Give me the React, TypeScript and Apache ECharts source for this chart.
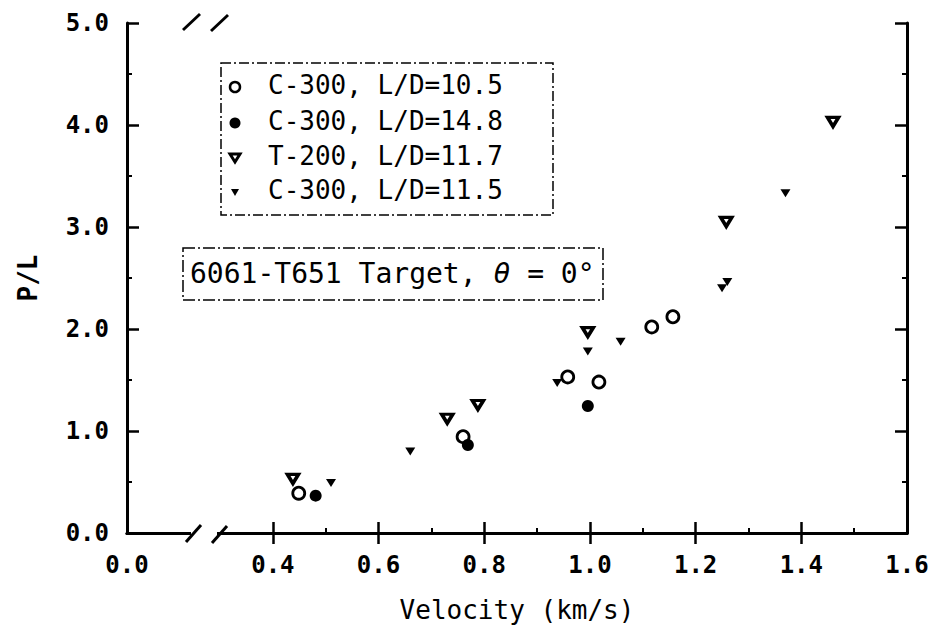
import React, { useEffect, useRef } from 'react';
import * as echarts from 'echarts';

// Broken velocity axis: its left end stands for 0.0
const X_START = 0.124;
const X_MAX = 1.6;
const X_LABELS = [X_START, 0.4, 0.6, 0.8, 1.0, 1.2, 1.4, 1.6];
const X_MAJOR = [0.4, 0.6, 0.8, 1.0, 1.2, 1.4];
const X_MINOR = [0.5, 0.7, 0.9, 1.1, 1.3, 1.5];
const Y_MIN = 0;
const Y_MAX = 5;
const Y_STEP = 1;

const NAMES = ['C-300, L/D=10.5', 'C-300, L/D=14.8', 'T-200, L/D=11.7', 'C-300, L/D=11.5'];

const C300_LD105 = [[0.449, 0.39], [0.76, 0.944], [0.958, 1.53], [1.017, 1.48], [1.117, 2.02], [1.157, 2.12]];
const C300_LD148 = [[0.481, 0.366], [0.769, 0.863], [0.996, 1.245]];
const T200_LD117 = [[0.438, 0.53], [0.73, 1.12], [0.788, 1.255], [0.996, 1.97], [1.258, 3.05], [1.46, 4.03]];
const C300_LD115 = [[0.51, 0.49], [0.66, 0.8], [0.938, 1.47], [0.996, 1.78], [1.058, 1.875], [1.26, 2.46], [1.25, 2.4], [1.37, 3.33]];

const ANNOTATION = '6061-T651 Target, ';
const X_NAME = 'Velocity (km/s)';
const Y_NAME = 'P/L';

const DOWN_TRI = 'path://M0,0L10,0L5,8.66Z';
const MONO = "'DejaVu Sans Mono', monospace";

export default function App() {
  const ref = useRef<HTMLDivElement>(null);
  useEffect(() => {
    if (!ref.current) return;
    const chart = echarts.init(ref.current, undefined, { renderer: 'svg' });
    const axisLine = { show: true, lineStyle: { color: '#000', width: 3 } };
    const labelFmt = (v: number) => (Math.abs(v - X_START) < 1e-6 ? '0.0' : v.toFixed(1));
    const legendRowsY = [87, 123, 158, 192];
    const legendSymbols: any[] = [
      { type: 'circle', shape: { cx: 235, cy: legendRowsY[0], r: 5 }, style: { fill: '#fff', stroke: '#000', lineWidth: 2.5 } },
      { type: 'circle', shape: { cx: 235, cy: legendRowsY[1], r: 5.5 }, style: { fill: '#000' } },
      { type: 'polygon', shape: { points: [[230, legendRowsY[2] - 4], [240, legendRowsY[2] - 4], [235, legendRowsY[2] + 4]] }, style: { fill: '#fff', stroke: '#000', lineWidth: 3 } },
      { type: 'polygon', shape: { points: [[231, legendRowsY[3] - 3], [239, legendRowsY[3] - 3], [235, legendRowsY[3] + 4]] }, style: { fill: '#000' } },
    ];
    const legendTexts = NAMES.map((n, i) => ({
      type: 'text', left: 268, top: legendRowsY[i] - 15,
      style: { text: n, fill: '#000', font: `26px ${MONO}`, textVerticalAlign: 'top' },
    }));
    const slash = (x1: number, y1: number, x2: number, y2: number) => ({
      type: 'line', z: 100, shape: { x1, y1, x2, y2 }, style: { stroke: '#000', lineWidth: 3 },
    });
    const option: any = {
      animation: false,
      backgroundColor: '#fff',
      grid: { left: 127, right: 25, top: 23, bottom: 103, containLabel: false, outerBoundsMode: 'none' },
      xAxis: [
        {
          type: 'value', position: 'bottom', min: X_START, max: X_MAX,
          axisLine, splitLine: { show: false },
          axisTick: { show: true, inside: true, length: 11, customValues: [...X_MAJOR, 1.6], lineStyle: { color: '#000', width: 2.5 } },
          axisLabel: { show: true, customValues: X_LABELS, formatter: labelFmt, margin: 20, color: '#000', fontFamily: MONO, fontWeight: 'bold', fontSize: 24 },
          name: X_NAME, nameLocation: 'middle', nameGap: 64,
          nameTextStyle: { color: '#000', fontFamily: MONO, fontSize: 26 },
        },
        {
          type: 'value', position: 'top', min: X_START, max: X_MAX,
          axisLine, splitLine: { show: false },
          axisTick: { show: true, inside: true, length: 11, customValues: X_MAJOR, lineStyle: { color: '#000', width: 2.5 } },
          axisLabel: { show: false },
        },
        {
          type: 'value', position: 'bottom', min: X_START, max: X_MAX,
          axisLine: { show: false }, splitLine: { show: false },
          axisTick: { show: true, inside: true, length: 5, customValues: X_MINOR, lineStyle: { color: '#000', width: 2 } },
          axisLabel: { show: false },
        },
      ],
      yAxis: [
        {
          type: 'value', position: 'left', min: Y_MIN, max: Y_MAX, interval: Y_STEP,
          axisLine, splitLine: { show: false },
          axisTick: { show: true, inside: true, length: 12, lineStyle: { color: '#000', width: 2.5 } },
          minorTick: { show: true, splitNumber: 2, length: 5, lineStyle: { color: '#000', width: 2 } },
          axisLabel: { formatter: (v: number) => v.toFixed(1), margin: 18, color: '#000', fontFamily: MONO, fontWeight: 'bold', fontSize: 24 },
          name: Y_NAME, nameLocation: 'middle', nameGap: 86, nameRotate: 90,
          nameTextStyle: { color: '#000', fontFamily: MONO, fontWeight: 'bold', fontSize: 26 },
        },
        {
          type: 'value', position: 'right', min: Y_MIN, max: Y_MAX, interval: Y_STEP,
          axisLine, splitLine: { show: false },
          axisTick: { show: true, inside: true, length: 12, lineStyle: { color: '#000', width: 2.5 } },
          minorTick: { show: true, splitNumber: 2, length: 5, lineStyle: { color: '#000', width: 2 } },
          axisLabel: { show: false },
        },
      ],
      series: [
        { name: NAMES[0], type: 'scatter', data: C300_LD105, symbol: 'circle', symbolSize: 12, itemStyle: { color: '#fff', borderColor: '#000', borderWidth: 2.8, opacity: 1 }, z: 3 },
        { name: NAMES[1], type: 'scatter', data: C300_LD148, symbol: 'circle', symbolSize: 12, itemStyle: { color: '#000', opacity: 1 }, z: 3 },
        { name: NAMES[2], type: 'scatter', data: T200_LD117, symbol: DOWN_TRI, symbolSize: [11, 9], itemStyle: { color: '#fff', borderColor: '#000', borderWidth: 3.5, opacity: 1 }, z: 3 },
        { name: NAMES[3], type: 'scatter', data: C300_LD115, symbol: DOWN_TRI, symbolSize: [10, 8], itemStyle: { color: '#000', opacity: 1 }, z: 3 },
      ],
      graphic: [
        // legend box
        { type: 'rect', shape: { x: 221, y: 63, width: 332, height: 152 }, style: { fill: 'none', stroke: '#000', lineWidth: 1.5, lineDash: [10, 3, 2, 3] } },
        ...legendSymbols,
        ...legendTexts,
        // annotation box
        { type: 'rect', shape: { x: 183, y: 248, width: 420, height: 52 }, style: { fill: '#fff', stroke: '#000', lineWidth: 1.5, lineDash: [12, 3, 2, 3] } },
        {
          type: 'text', left: 190, top: 259,
          style: {
            text: ANNOTATION + '{t|θ} = 0°',
            fill: '#000', font: `28px ${MONO}`,
            rich: { t: { fontFamily: MONO, fontSize: 28, fontStyle: 'italic', fill: '#000' } },
          },
        },
        // axis break marks (bottom)
        { type: 'rect', z: 99, shape: { x: 191, y: 527, width: 26, height: 12 }, style: { fill: '#fff' } },
        slash(186, 542, 201, 525),
        slash(212, 543, 227, 526),
        // axis break marks (top)
        { type: 'rect', z: 99, shape: { x: 192, y: 17, width: 27, height: 12 }, style: { fill: '#fff' } },
        slash(183, 30, 200, 14),
        slash(211, 31, 228, 15),
      ],
    };
    chart.setOption(option);
    return () => chart.dispose();
  }, []);
  return <div ref={ref} style={{ width: 932, height: 636, position: 'absolute', left: 0, top: 0 }} />;
}
